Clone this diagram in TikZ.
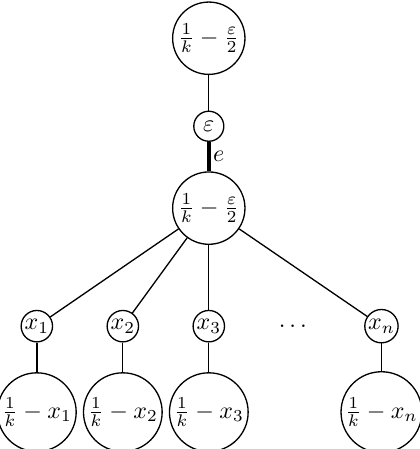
\documentclass[tikz,border=0pt]{standalone}
\usepackage{amsmath}
\usetikzlibrary{positioning}

\begin{document}
\begin{tikzpicture}[
  line width=0.55pt,
  big/.style={draw, circle, minimum size=10.6mm, inner sep=0.5pt},
  small/.style={draw, circle, minimum size=4.4mm, inner sep=0.5pt},
  heavy/.style={line width=1.6pt}
]
\useasboundingbox (-3.06,-3.53) rectangle (3.09,3.05);

\node[big] (top) at (0,2.49) {$\frac{1}{k}-\frac{\varepsilon}{2}$};
\node[small] (eps) at (0,1.20) {$\varepsilon$};
\node[big] (root) at (0,0) {$\frac{1}{k}-\frac{\varepsilon}{2}$};

\foreach \i/\x in {1/-2.52, 2/-1.26, 3/0, n/2.53} {
  \node[small] (x\i) at (\x,-1.73) {$x_{\i}$};
  \node[big] (w\i) at (\x,-2.99) {$\frac{1}{k}-x_{\i}$};
}
\node (dots) at (1.26,-1.73) {$\dots$};

\draw (top) -- (eps);
\draw[heavy] (eps) -- node[right, inner sep=1pt] {$e$} (root);
\foreach \i in {1,2,3,n} {
  \draw (root) -- (x\i);
  \draw (x\i) -- (w\i);
}
\end{tikzpicture}
\end{document}
